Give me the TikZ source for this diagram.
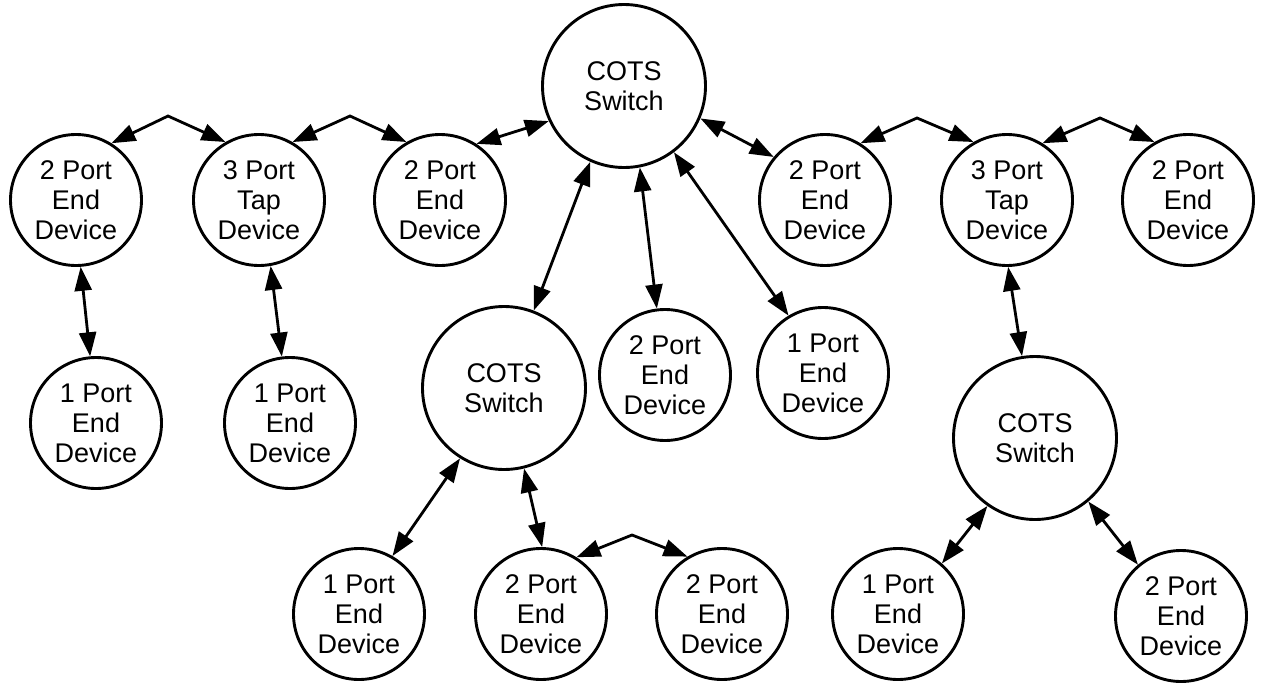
\documentclass[tikz,border=0pt]{standalone}
\usepackage{fontspec}
\setmainfont{Liberation Sans}
\usetikzlibrary{arrows.meta}
\tikzset{
  dev/.style={circle, draw, line width=2.9pt, minimum size=131pt, inner sep=0pt, align=center, font=\fontsize{27}{30}\selectfont},
  sw/.style={dev, minimum size=163pt},
  link/.style={line width=2.8pt, {Triangle[length=24pt,width=17pt]}-{Triangle[length=24pt,width=17pt]}, line join=miter},
}
\begin{document}
\begin{tikzpicture}[x=1pt,y=-1pt]
\useasboundingbox[fill=white] (0,0) rectangle (1264,683);
% nodes
\node[sw]  (top) at (624,86)  {COTS\\Switch};
\node[dev] (a1) at (76,200)   {2 Port\\End\\Device};
\node[dev] (a2) at (259,200)  {3 Port\\Tap\\Device};
\node[dev] (a3) at (440,200)  {2 Port\\End\\Device};
\node[dev] (b1) at (825,200)  {2 Port\\End\\Device};
\node[dev] (b2) at (1007,200) {3 Port\\Tap\\Device};
\node[dev] (b3) at (1188,200) {2 Port\\End\\Device};
\node[dev] (c1) at (96,423)   {1 Port\\End\\Device};
\node[dev] (c2) at (290,423)  {1 Port\\End\\Device};
\node[sw]  (mid) at (504,388) {COTS\\Switch};
\node[dev] (d1) at (665,375)  {2 Port\\End\\Device};
\node[dev] (d2) at (823,373)  {1 Port\\End\\Device};
\node[sw]  (rsw) at (1035,438) {COTS\\Switch};
\node[dev] (e1) at (359,614)  {1 Port\\End\\Device};
\node[dev] (e2) at (541,614)  {2 Port\\End\\Device};
\node[dev] (e3) at (722,614)  {2 Port\\End\\Device};
\node[dev] (f1) at (898,614)  {1 Port\\End\\Device};
\node[dev] (f2) at (1181,616) {2 Port\\End\\Device};
% peaks
\coordinate (p1) at (168,116);
\coordinate (p2) at (350,116);
\coordinate (p3) at (917,118);
\coordinate (p4) at (1100,118);
\coordinate (p5) at (632,535);
% links
\draw[link] (a1.58) -- (p1) -- (a2.120);
\draw[link] (a2.60) -- (p2) -- (a3.120);
\draw[link] (a3.57) -- (top.205);
\draw[link] (a1.-86) -- (c1.95);
\draw[link] (a2.-80) -- (c2.97);
\draw[link] (top.246) -- (mid.69);
\draw[link] (top.281) -- (d1.97);
\draw[link] (top.307) -- (d2.121);
\draw[link] (top.-23) -- (b1.140);
\draw[link] (b1.58) -- (p3) -- (b2.120);
\draw[link] (b2.58) -- (p4) -- (b3.120);
\draw[link] (b2.-89) -- (rsw.99);
\draw[link] (mid.238) -- (e1.60);
\draw[link] (mid.-76) -- (e2.89);
\draw[link] (e2.58) -- (p5) -- (e3.121);
\draw[link] (rsw.235) -- (f1.49);
\draw[link] (rsw.-50) -- (f2.130);
\end{tikzpicture}
\end{document}
